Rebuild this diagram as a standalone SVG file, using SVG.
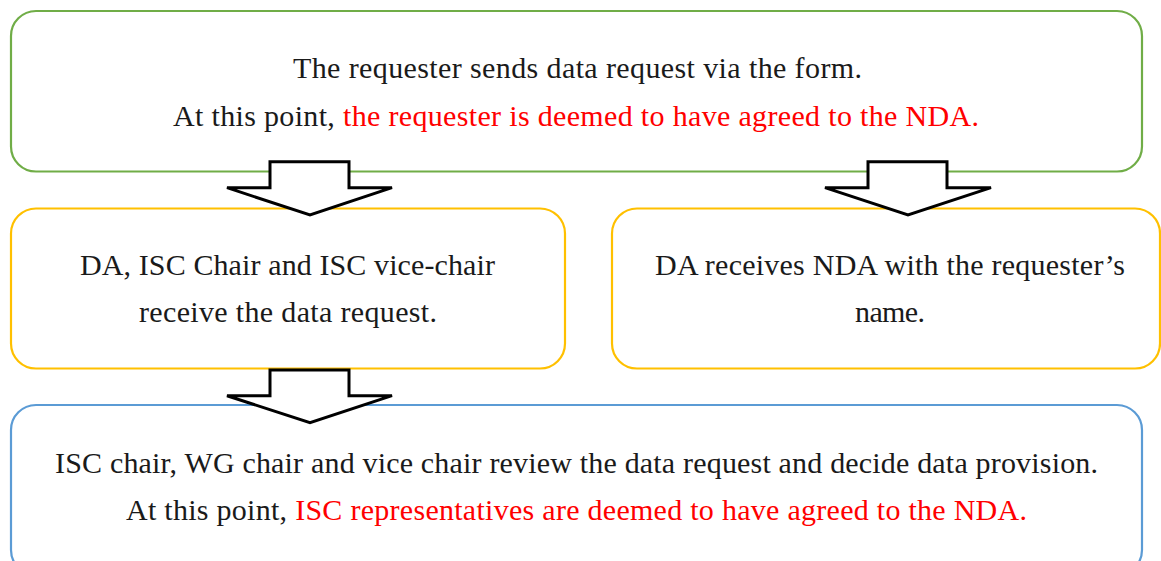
<svg xmlns="http://www.w3.org/2000/svg" width="1161" height="561" viewBox="0 0 1161 561">
<style>
.box{fill:#fff;stroke-width:2.2}
.g{stroke:#70AD47}.y{stroke:#FFC000}.b{stroke:#5B9BD5}
.t{font-family:"Liberation Serif","DejaVu Serif",serif;font-size:30px;fill:#1a1a1a;text-anchor:middle}
.r{fill:#FF0000}
.arrow{fill:#fff;stroke:#000;stroke-width:3;stroke-linejoin:miter}
</style>
<rect width="1161" height="561" fill="#fff"/>
<g id="node-request">
<rect class="box g" x="11" y="11" width="1131" height="160.5" rx="25"/>
<text class="t" x="577.5" y="78" textLength="569">The requester sends data request via the form.</text>
<text class="t" x="576" y="126" textLength="806">At this point, <tspan class="r">the requester is deemed to have agreed to the NDA.</tspan></text>
</g>
<g id="node-receive">
<rect class="box y" x="11" y="208.5" width="554" height="160" rx="25"/>
<text class="t" x="287.5" y="275" textLength="415">DA, ISC Chair and ISC vice-chair</text>
<text class="t" x="288" y="322" textLength="298">receive the data request.</text>
</g>
<g id="node-nda">
<rect class="box y" x="612" y="208.5" width="548" height="160" rx="25"/>
<text class="t" x="890" y="275" textLength="470">DA receives NDA with the requester’s</text>
<text class="t" x="890" y="322" textLength="70">name.</text>
</g>
<g id="node-review">
<rect class="box b" x="11" y="405" width="1131" height="170" rx="25"/>
<text class="t" x="576.5" y="473" textLength="1043">ISC chair, WG chair and vice chair review the data request and decide data provision.</text>
<text class="t" x="576.5" y="520" textLength="901">At this point, <tspan class="r">ISC representatives are deemed to have agreed to the NDA.</tspan></text>
</g>
<g id="connectors">
<polygon class="arrow" points="270,161.7 349,161.7 349,187.7 392,187.7 310,215 227,187.7 270,187.7"/>
<polygon class="arrow" points="868,161.7 947,161.7 947,187.7 991,187.7 908,215 825,187.7 868,187.7"/>
<polygon class="arrow" points="270,370 349,370 349,395.7 392,395.7 310,422.7 227,395.7 270,395.7"/>
</g>
</svg>
